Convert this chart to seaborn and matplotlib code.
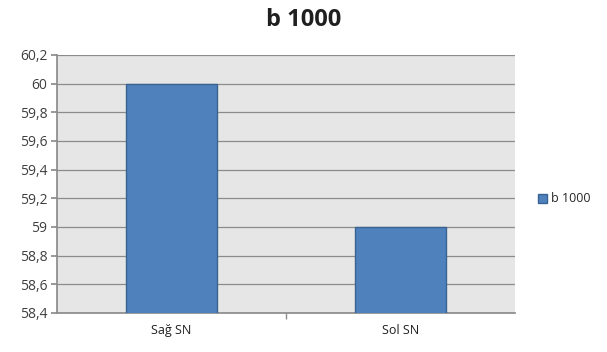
import matplotlib
matplotlib.use("Agg")
import matplotlib.pyplot as plt
import seaborn as sns
import pandas as pd
from matplotlib.ticker import FuncFormatter

categories = ["Sağ SN", "Sol SN"]
values = [60.0, 59.0]
series_name = "b 1000"
yticks = [58.4, 58.6, 58.8, 59.0, 59.2, 59.4, 59.6, 59.8, 60.0, 60.2]

sns.set_theme(style="white")
plt.rcParams['font.family'] = ['Open Sans', 'DejaVu Sans']

df = pd.DataFrame({"cat": categories, "val": values, "series": series_name})

fig = plt.figure(figsize=(6.07, 3.52), dpi=100)
ax = fig.add_axes([57/607, 1 - 313/352, (515-57)/607, (313-55)/352])
ax.set_facecolor("#e6e6e6")

sns.barplot(data=df, x="cat", y="val", hue="series", palette=["#4f81bd"], saturation=1,
            width=0.4, ax=ax, edgecolor="#3a6292", linewidth=1.0, zorder=3)

ax.set_ylim(58.4, 60.2)
ax.set_xlim(-0.5, 1.5)
ax.set_yticks(yticks)
ax.yaxis.set_major_formatter(FuncFormatter(lambda v, p: (f"{v:.1f}".rstrip("0").rstrip(".")).replace(".", ",")))
ax.grid(axis="y", color="#8c8c8c", linewidth=0.9, zorder=0)
ax.set_axisbelow(True)
ax.set_xlabel("")
ax.set_ylabel("")
for s in ["top", "right"]:
    ax.spines[s].set_visible(False)
ax.spines["left"].set_color("#8c8c8c")
ax.spines["bottom"].set_color("#8c8c8c")
ax.tick_params(axis="y", length=4, color="#8c8c8c", labelsize=10, labelcolor="#404040", pad=3, left=True)
ax.tick_params(axis="x", length=0, labelsize=9, labelcolor="#202020", pad=8)
ax.set_xticks([0, 1])
ax.set_xticklabels(categories)
ax.set_xticks([0.5], minor=True)
ax.tick_params(axis="x", which="minor", length=4, color="#8c8c8c", bottom=True)

fig.text(0.5, 1 - 20/352, "b 1000", ha="center", va="center", fontsize=17, fontweight="bold", color="#202020")

handles, labels = ax.get_legend_handles_labels()
ax.get_legend().remove()
fig.legend(handles, labels, loc="center left", bbox_to_anchor=(527/607, 1 - 199/352),
           frameon=False, fontsize=9, handlelength=0.7, handleheight=0.7, handletextpad=0.3)

fig.savefig("out.png", dpi=100)
